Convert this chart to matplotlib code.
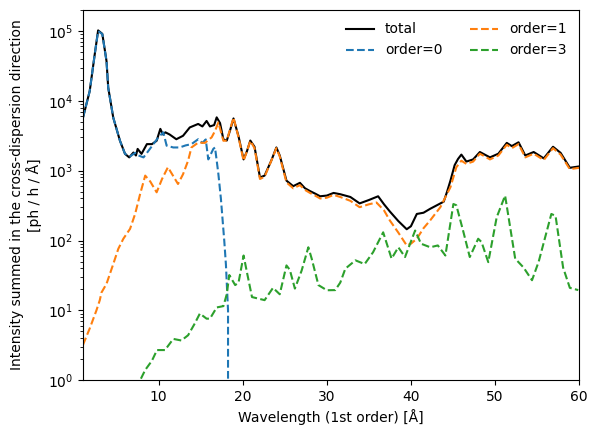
import matplotlib.pyplot as plt
import numpy as np

# total spectrum
wl_total = [1.0, 1.8, 2.4, 2.8, 3.3, 3.8, 4.0, 4.6, 5.4, 6.0, 6.5, 7.0, 7.3, 7.5, 7.96, 8.6,
            9.2, 9.76, 10.2, 10.5, 10.8, 11.3, 12.1, 12.9, 13.7, 14.7, 15.2, 15.7, 16.1, 16.6,
            16.9, 17.3, 17.7, 18.1, 18.5, 18.9, 19.5, 20.1, 20.5, 20.9, 21.4, 22.05, 22.6, 23.4,
            24.0, 24.4, 25.2, 26.0, 26.8, 27.4, 28.0, 28.6, 29.2, 30.0, 30.8, 31.6, 32.8, 33.9,
            35.0, 36.1, 36.8, 37.5, 38.5, 39.5, 40.0, 40.7, 41.5, 42.3, 43.9, 44.3, 44.7, 45.2,
            45.6, 46.0, 46.6, 47.4, 48.2, 49.4, 50.4, 51.4, 52.0, 52.8, 53.6, 54.6, 55.8, 56.9,
            57.8, 58.9, 60.0]
total = [5750, 13800, 46600, 1.02e5, 9.1e4, 3.7e4, 15500, 5750, 2680, 1740, 1550, 1820, 1650,
         2050, 1740, 2400, 2400, 2680, 3970, 3300, 3540, 3300, 2820, 3160, 4160, 4670, 4300,
         5150, 4300, 4500, 5800, 4800, 2800, 2700, 3800, 5600, 3100, 1450, 1900, 2700, 2200,
         800, 850, 1400, 2150, 1650, 720, 600, 670, 560, 510, 470, 430, 440, 480, 460, 420,
         340, 380, 430, 330, 260, 190, 145, 160, 240, 250, 285, 360, 500, 720, 1200, 1470,
         1700, 1350, 1450, 1850, 1550, 1750, 2500, 2250, 2550, 1650, 1850, 1500, 2200, 1800,
         1100, 1150]

# order 0
wl_o0 = [1.0, 1.8, 2.4, 2.8, 3.3, 3.8, 4.0, 4.6, 5.4, 6.0, 6.6, 7.2, 7.6, 8.2, 8.97, 9.96,
         10.55, 10.95, 11.74, 12.5, 13.2, 13.9, 14.7, 15.2, 15.6, 15.9, 16.5, 16.7, 16.9, 17.1,
         17.4, 17.8, 18.0, 18.25, 18.32]
order0 = [5750, 13800, 46600, 1.0e5, 9.0e4, 3.7e4, 15500, 5750, 2680, 1740, 1600, 1800, 1650,
          1550, 2060, 3000, 3540, 2280, 2150, 2150, 2300, 2400, 2820, 2500, 2800, 1450, 2050,
          2150, 1400, 900, 400, 100, 45, 10, 0]

# order 1
wl_o1 = [1.0, 1.8, 2.6, 3.0, 3.2, 3.8, 4.6, 5.2, 5.8, 6.6, 7.2, 7.8, 8.4, 9.0, 9.76, 10.4,
         11.1, 11.7, 12.3, 12.9, 13.5, 13.9, 14.7, 15.5, 16.3, 16.7, 17.1, 17.7, 18.1, 18.9,
         19.5, 20.1, 20.5, 20.9, 21.4, 22.05, 22.6, 23.4, 24.0, 24.4, 25.2, 26.0, 26.8, 27.4,
         28.0, 28.6, 29.2, 30.0, 30.8, 31.6, 32.8, 33.9, 35.0, 35.9, 36.8, 37.5, 38.5, 39.5,
         40.0, 40.7, 41.5, 42.3, 43.5, 44.7, 45.4, 46.0, 46.6, 47.4, 48.2, 49.4, 50.4, 51.4,
         52.0, 52.8, 53.6, 54.6, 55.8, 56.9, 57.8, 58.9, 60.0]
order1 = [3.2, 5.5, 10, 14, 18, 24, 46, 76, 106, 147, 240, 465, 850, 700, 490, 760, 1120, 850,
          645, 890, 1390, 2150, 2520, 2500, 3000, 3700, 4900, 2680, 2700, 5750, 3000, 1390,
          1900, 2680, 2100, 760, 820, 1390, 2100, 1600, 680, 560, 620, 530, 480, 440, 400,
          410, 450, 420, 370, 300, 330, 350, 270, 193, 130, 85, 90, 106, 150, 195, 300, 580,
          1120, 1390, 1250, 1350, 1750, 1450, 1650, 2350, 2100, 2400, 1550, 1750, 1420, 2100,
          1700, 1050, 1100]

# order 3
wl_o3 = [7.4, 7.8, 8.4, 9.2, 9.8, 10.75, 11.74, 12.7, 13.5, 14.3, 14.9, 15.7, 16.1, 16.9,
         17.7, 18.1, 18.4, 19.1, 19.5, 20.1, 20.5, 21.1, 22.6, 23.6, 24.4, 25.2, 25.6, 26.2,
         27.0, 27.8, 28.2, 29.0, 30.0, 31.0, 31.6, 32.2, 33.4, 34.5, 35.5, 36.7, 37.7, 38.5,
         39.3, 40.5, 41.2, 42.3, 43.2, 44.1, 45.05, 45.4, 46.2, 47.0, 48.0, 48.4, 49.2, 50.2,
         51.2, 52.4, 53.4, 54.4, 55.2, 56.7, 57.2, 58.1, 58.9, 59.9]
order3 = [0.75, 1.0, 1.4, 1.9, 2.7, 2.7, 3.9, 3.7, 4.4, 6.5, 9.0, 7.6, 7.6, 11, 11.5, 17, 32,
          23, 25, 61, 35, 15.5, 14, 21, 17, 44, 38, 20.5, 37, 80, 55, 23, 19.4, 19.5, 25, 39.5,
          52, 46, 68, 131, 55, 80, 58, 139, 90, 80, 85, 61, 333, 320, 139, 58, 106, 95, 49,
          215, 440, 55, 41, 27, 50, 240, 225, 41, 21, 19.5]

fig, ax = plt.subplots(figsize=(5.97, 4.34), dpi=100)
fig.subplots_adjust(left=0.139, right=0.970, top=0.977, bottom=0.124)

ax.plot(wl_total, total, color="k", label="total")
ax.plot(wl_o0, order0, "--", color="C0", label="order=0")
ax.plot(wl_o1, order1, "--", color="C1", label="order=1")
ax.plot(wl_o3, order3, "--", color="C2", label="order=3")

ax.set_yscale("log")
ax.set_xlim(1, 60)
ax.set_ylim(1, 2e5)
ax.set_xlabel("Wavelength (1st order) [Å]")
ax.set_ylabel("Intensity summed in the cross-dispersion direction\n[ph / h / Å]")
ax.legend(ncol=2, frameon=False, loc="upper right")

fig.savefig("out.png", dpi=100)
